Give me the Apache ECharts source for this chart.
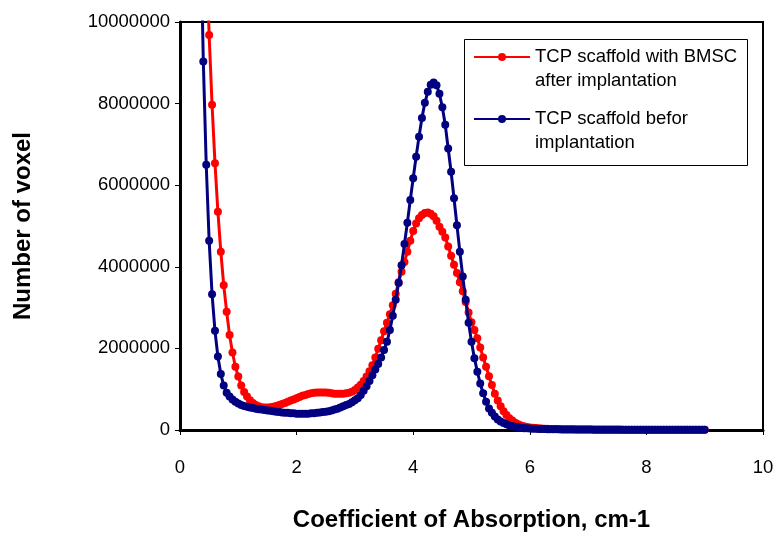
<!DOCTYPE html>
<html>
<head>
<meta charset="utf-8">
<script src="https://cdn.jsdelivr.net/npm/echarts@6/dist/echarts.min.js"></script>
<style>
html,body{margin:0;padding:0;background:#fff;}
#chart{width:779px;height:539px;}
</style>
</head>
<body>
<div id="chart"></div>
<script>
// Coefficient of absorption (cm-1), x positions of the samples
const absorption = [
  0.35,0.40,0.45,0.50,0.55,0.60,0.65,0.70,0.75,0.80,
  0.85,0.90,0.95,1.00,1.05,1.10,1.15,1.20,1.25,1.30,
  1.35,1.40,1.45,1.50,1.55,1.60,1.65,1.70,1.75,1.80,
  1.85,1.90,1.95,2.00,2.05,2.10,2.15,2.20,2.25,2.30,
  2.35,2.40,2.45,2.50,2.55,2.60,2.65,2.70,2.75,2.80,
  2.85,2.90,2.95,3.00,3.05,3.10,3.15,3.20,3.25,3.30,
  3.35,3.40,3.45,3.50,3.55,3.60,3.65,3.70,3.75,3.80,
  3.85,3.90,3.95,4.00,4.05,4.10,4.15,4.20,4.25,4.30,
  4.35,4.40,4.45,4.50,4.55,4.60,4.65,4.70,4.75,4.80,
  4.85,4.90,4.95,5.00,5.05,5.10,5.15,5.20,5.25,5.30,
  5.35,5.40,5.45,5.50,5.55,5.60,5.65,5.70,5.75,5.80,
  5.85,5.90,5.95,6.00,6.05,6.10,6.15,6.20,6.25,6.30,
  6.35,6.40,6.45,6.50,6.55,6.60,6.65,6.70,6.75,6.80,
  6.85,6.90,6.95,7.00,7.05,7.10,7.15,7.20,7.25,7.30,
  7.35,7.40,7.45,7.50,7.55,7.60,7.65,7.70,7.75,7.80,
  7.85,7.90,7.95,8.00,8.05,8.10,8.15,8.20,8.25,8.30,
  8.35,8.40,8.45,8.50,8.55,8.60,8.65,8.70,8.75,8.80,
  8.85,8.90,8.95,9.00
];

// Number of voxels, in millions
const afterImplantation = [
  null,null,11.8,9.68,7.97,6.54,5.35,4.37,3.55,2.90,
  2.33,1.90,1.55,1.31,1.09,0.93,0.82,0.73,0.66,0.61,
  0.58,0.56,0.55,0.55,0.56,0.57,0.59,0.61,0.64,0.66,
  0.69,0.72,0.75,0.78,0.81,0.84,0.86,0.88,0.90,0.91,
  0.92,0.92,0.92,0.92,0.91,0.90,0.89,0.89,0.89,0.89,
  0.90,0.91,0.94,0.98,1.04,1.11,1.20,1.31,1.44,1.59,
  1.78,1.99,2.20,2.42,2.63,2.84,3.06,3.34,3.62,3.88,
  4.12,4.37,4.64,4.88,5.06,5.19,5.27,5.32,5.33,5.30,
  5.24,5.13,4.98,4.86,4.72,4.50,4.27,4.05,3.85,3.62,
  3.40,3.14,2.88,2.64,2.45,2.25,2.02,1.78,1.55,1.32,
  1.10,0.89,0.72,0.58,0.46,0.37,0.29,0.23,0.18,0.14,
  0.11,0.09,0.075,0.063,0.054,0.047,0.041,0.036,0.032,0.029,
  0.027,0.025,0.023,0.021,0.020,0.019,0.018,0.017,0.016,0.015,
  0.015,0.014,0.014,0.013,0.013,0.012,0.012,0.012,0.011,0.011,
  0.011,0.010,0.010,0.010,0.010,0.009,0.009,0.009,0.009,0.009,
  0.008,0.008,0.008,0.008,0.008,0.008,0.008,0.008,0.008,0.008,
  0.008,0.008,0.007,0.007,0.007,0.007,0.007,0.007,0.007,0.007,
  0.007,0.007,0.007,0.007
];

const beforeImplantation = [
  12.5,9.03,6.50,4.64,3.33,2.43,1.80,1.37,1.09,0.91,
  0.82,0.75,0.69,0.65,0.61,0.59,0.57,0.55,0.54,0.52,
  0.51,0.50,0.49,0.48,0.47,0.46,0.45,0.44,0.43,0.42,
  0.42,0.41,0.41,0.40,0.40,0.40,0.40,0.40,0.41,0.41,
  0.42,0.43,0.44,0.45,0.46,0.48,0.50,0.52,0.55,0.58,
  0.61,0.64,0.68,0.73,0.78,0.86,0.96,1.07,1.20,1.34,
  1.48,1.62,1.78,1.96,2.16,2.45,2.80,3.19,3.60,4.04,
  4.56,5.08,5.64,6.17,6.70,7.19,7.65,8.02,8.29,8.46,
  8.52,8.45,8.24,7.91,7.48,6.90,6.33,5.68,5.02,4.37,
  3.76,3.19,2.63,2.16,1.76,1.43,1.14,0.90,0.69,0.53,
  0.42,0.33,0.26,0.21,0.17,0.14,0.11,0.09,0.08,0.065,
  0.055,0.045,0.040,0.035,0.030,0.028,0.026,0.024,0.022,0.020,
  0.019,0.018,0.017,0.016,0.015,0.014,0.013,0.013,0.012,0.012,
  0.011,0.011,0.010,0.010,0.010,0.009,0.009,0.009,0.009,0.009,
  0.008,0.008,0.008,0.008,0.008,0.008,0.008,0.008,0.008,0.008,
  0.008,0.007,0.007,0.007,0.007,0.007,0.007,0.007,0.007,0.007,
  0.007,0.006,0.006,0.006,0.006,0.006,0.006,0.006,0.006,0.006,
  0.006,0.006,0.005,0.005
];

const xTicks = [0, 2, 4, 6, 8, 10];
const yTicks = [0, 2000000, 4000000, 6000000, 8000000, 10000000];

const seriesNames = ['TCP scaffold with BMSC after implantation', 'TCP scaffold befor implantation'];
const legendLines = {
  'TCP scaffold with BMSC after implantation': ['TCP scaffold with BMSC', 'after implantation'],
  'TCP scaffold befor implantation': ['TCP scaffold befor', 'implantation']
};

const FONT = 'Liberation Sans, Arial, sans-serif';

function toPairs(vals) {
  const out = [];
  for (let i = 0; i < absorption.length; i++) {
    if (vals[i] === null || vals[i] === undefined) continue;
    out.push([absorption[i], vals[i] * 1000000]);
  }
  return out;
}

const chart = echarts.init(document.getElementById('chart'), null, {renderer: 'canvas'});

const legendCommon = {
  orient: 'vertical',
  left: 473,
  padding: 0,
  itemWidth: 56,
  itemHeight: 10,
  selectedMode: false,
  textStyle: {fontFamily: FONT, fontSize: 18.5, color: '#000', lineHeight: 24},
  formatter: function (name) { return '\n' + legendLines[name].join('\n'); }
};

chart.setOption({
  animation: false,
  backgroundColor: '#fff',
  grid: {left: 180, right: 16, top: 22, bottom: 109, show: true, borderColor: '#000', borderWidth: 2,
         backgroundColor: 'transparent', containLabel: false, outerBoundsMode: 'none'},
  xAxis: {
    type: 'value', min: xTicks[0], max: xTicks[xTicks.length - 1], interval: 2,
    axisLine: {show: true, onZero: false, lineStyle: {color: '#000', width: 3}},
    axisTick: {show: true, inside: false, length: 5, lineStyle: {color: '#000', width: 1}},
    axisLabel: {color: '#000', fontFamily: FONT, fontSize: 18.5, margin: 28},
    splitLine: {show: false},
    name: 'Coefficient of Absorption, cm-1',
    nameLocation: 'middle', nameGap: 78,
    nameTextStyle: {color: '#000', fontFamily: FONT, fontSize: 24, fontWeight: 'bold'}
  },
  yAxis: {
    type: 'value', min: yTicks[0], max: yTicks[yTicks.length - 1], interval: 2000000,
    axisLine: {show: true, onZero: false, lineStyle: {color: '#000', width: 3}},
    axisTick: {show: true, inside: false, length: 5, lineStyle: {color: '#000', width: 1}},
    axisLabel: {color: '#000', fontFamily: FONT, fontSize: 18.5, margin: 10, formatter: function (v) { return String(v); }},
    splitLine: {show: false},
    name: 'Number of voxel',
    nameLocation: 'middle', nameGap: 145, nameRotate: 90,
    nameTextStyle: {color: '#000', fontFamily: FONT, fontSize: 24, fontWeight: 'bold'}
  },
  legend: [
    Object.assign({}, legendCommon, {top: 21, data: [seriesNames[0]]}),
    Object.assign({}, legendCommon, {top: 83, data: [seriesNames[1]]})
  ],
  graphic: [{
    type: 'rect', left: 462, top: 37, silent: true,
    shape: {width: 283, height: 126},
    style: {fill: 'none', stroke: '#000', lineWidth: 1}
  }],
  series: [
    {
      name: seriesNames[0], type: 'line', data: toPairs(afterImplantation),
      color: '#FF0000', symbol: 'circle', symbolSize: 8, showSymbol: true, showAllSymbol: true,
      lineStyle: {width: 3, color: '#FF0000'}, itemStyle: {color: '#FF0000'},
      clip: true, emphasis: {disabled: true}, z: 2
    },
    {
      name: seriesNames[1], type: 'line', data: toPairs(beforeImplantation),
      color: '#000080', symbol: 'circle', symbolSize: 8, showSymbol: true, showAllSymbol: true,
      lineStyle: {width: 3, color: '#000080'}, itemStyle: {color: '#000080'},
      clip: true, emphasis: {disabled: true}, z: 3
    }
  ]
});
</script>
</body>
</html>
